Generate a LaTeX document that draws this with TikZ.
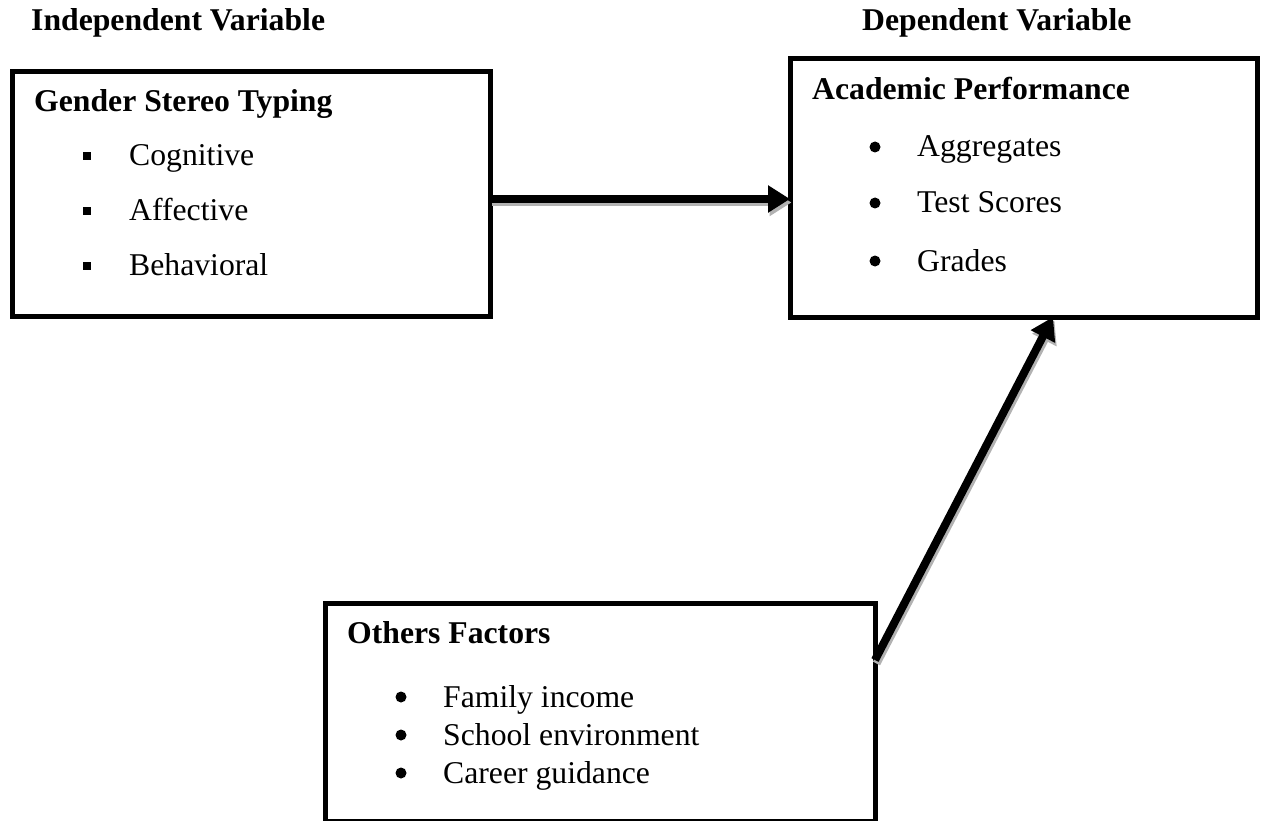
\documentclass[tikz,border=0pt]{standalone}
\usepackage{fontspec}
\setmainfont{Liberation Serif}
\usetikzlibrary{arrows.meta,positioning}

\tikzset{
  frame/.style={draw,line width=5pt,inner sep=0pt,outer sep=0pt},
  hdr/.style={font=\bfseries\fontsize{31.7}{38}\selectfont,anchor=base west,inner sep=0pt},
  itm/.style={font=\fontsize{31.7}{38}\selectfont,anchor=base west,inner sep=0pt},
  sqbul/.style={fill,minimum size=8pt,inner sep=0pt},
  dotbul/.style={circle,fill,minimum size=11pt,inner sep=0pt},
  flow/.style={line width=8pt,-{Triangle[length=22pt,width=26pt]}},
  flowshade/.style={flow,draw=black!30,fill=black!30,transform canvas={shift={(1.5pt,-3.5pt)}}}
}

\begin{document}
\begin{tikzpicture}[x=1pt,y=-1pt]
\useasboundingbox (0,0) rectangle (1261,821);
\node[frame,minimum width=478pt,minimum height=244pt] (gst) at (251.5,194) {};
\node[frame,minimum width=467pt,minimum height=258.5pt] (acp) at (1023.5,187.75) {};
\node[frame,minimum width=550pt,minimum height=218pt] (oth) at (600,712) {};
\node[hdr] (indep) at (31,31) {Independent Variable};
\node[hdr] (dep) at (862,31) {Dependent Variable};
\node[hdr] (gsthd) at (34,112) {Gender Stereo Typing};
\node[itm] (cog) at (129,166) {Cognitive};
\node[itm] (aff) at (129,221) {Affective};
\node[itm] (beh) at (129,276) {Behavioral};
\node[hdr] (acphd) at (812,100) {Academic Performance};
\node[itm] (agg) at (917,157) {Aggregates};
\node[itm] (tst) at (917,213) {Test Scores};
\node[itm] (grd) at (917,271) {Grades};
\node[hdr] (othhd) at (347,643) {Others Factors};
\node[itm] (fam) at (443,707) {Family income};
\node[itm] (sch) at (443,745) {School environment};
\node[itm] (car) at (443,783) {Career guidance};
\foreach \n in {cog,aff,beh}
  \node[sqbul] at ([xshift=-42pt,yshift=10pt]\n.base west) {};
\foreach \n in {agg,tst,grd,fam,sch,car}
  \node[dotbul] at ([xshift=-42pt,yshift=10pt]\n.base west) {};
\draw[flowshade] ([yshift=-5pt]gst.east) -- ([yshift=-11.25pt]acp.west);
\draw[flow] ([yshift=-5pt]gst.east) -- ([yshift=-11.25pt]acp.west);
\draw[flowshade] ([yshift=52pt]oth.east) -- ([xshift=29.5pt]acp.south);
\draw[flow] ([yshift=52pt]oth.east) -- ([xshift=29.5pt]acp.south);
\end{tikzpicture}
\end{document}
